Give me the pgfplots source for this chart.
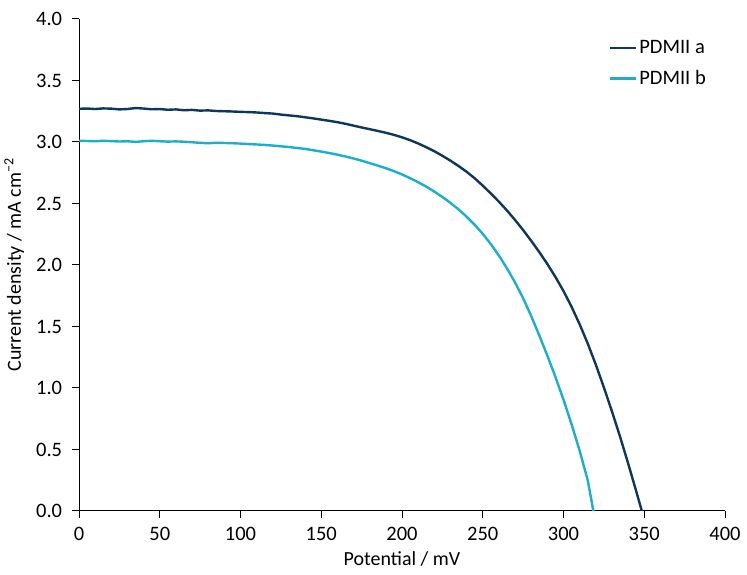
\documentclass[border=0pt]{standalone}
\usepackage{pgfplots}
\pgfplotsset{compat=1.18}
\usepackage{fontspec}
\setmainfont{Carlito}
\definecolor{cdark}{RGB}{14,55,92}
\definecolor{clight}{RGB}{24,176,204}
\begin{document}
\fontsize{20}{24}\selectfont
\begin{tikzpicture}
\useasboundingbox (0pt,0pt) rectangle (747pt,575pt);
\begin{axis}[
  at={(79pt,64pt)}, anchor=south west,
  scale only axis, width=646pt, height=492pt,
  xmin=0, xmax=400, ymin=0, ymax=4,
  axis lines=left,
  axis line style={line width=1pt,-},
  xtick={0,50,...,400}, ytick={0,0.5,...,4},
  tick align=outside, tick style={line width=1pt,black},
  major tick length=7pt,
  yticklabel style={/pgf/number format/fixed,/pgf/number format/fixed zerofill,/pgf/number format/precision=1},
  /pgf/number format/assume math mode=true,
  tick label style={font=\fontsize{20.5}{24}\selectfont},
  xticklabel style={yshift=-2pt},
  yticklabel style={xshift=-3pt},
  xlabel={Potential / mV},
  ylabel={Current density / mA cm\textsuperscript{−2}},
  label style={font=\fontsize{20}{24}\selectfont},
  xlabel style={at={(0.5,0)}, anchor=north, yshift=-34pt},
  ylabel style={at={(0,0.5)}, anchor=south, yshift=48pt},
  legend style={at={(0.82,0.962)}, anchor=north west, draw=none, fill=none,
    font=\fontsize{20.5}{24}\selectfont, row sep=10pt, inner sep=0pt},
  legend cell align=left,
  legend image code/.code={\draw[#1] (0pt,0pt) -- (26pt,0pt);},
  every axis plot/.append style={line width=2.4pt, line join=round},
]
\addplot[cdark, no markers] coordinates {
(0,3.270)(5,3.272)(10,3.268)(15,3.273)(20,3.271)(25,3.265)(30,3.268)(35,3.276)(40,3.272)(45,3.266)
(50,3.268)(55,3.262)(60,3.265)(65,3.258)(70,3.261)(75,3.255)(80,3.257)(85,3.252)(90,3.250)(95,3.248)
(100,3.245)(105,3.243)(110,3.240)(115,3.235)(120,3.231)(125,3.223)(130,3.216)(135,3.210)(140,3.201)(145,3.192)
(150,3.182)(155,3.172)(160,3.161)(165,3.148)(170,3.133)(175,3.118)(180,3.104)(185,3.090)(190,3.075)(195,3.058)
(200,3.038)(205,3.015)(210,2.988)(215,2.958)(220,2.925)(225,2.888)(230,2.848)(235,2.805)(240,2.758)(245,2.705)
(250,2.645)(255,2.582)(260,2.515)(265,2.443)(270,2.366)(275,2.284)(280,2.197)(285,2.105)(290,2.008)(295,1.903)
(300,1.788)(305,1.660)(310,1.518)(315,1.362)(320,1.190)(325,1.005)(330,0.810)(335,0.605)(340,0.388)(345,0.162)
(348.5,0.000)
};
\addlegendentry{PDMII a}
\addplot[clight, no markers] coordinates {
(0,3.010)(5,3.008)(10,3.006)(15,3.010)(20,3.007)(25,3.004)(30,3.006)(35,3.001)(40,3.006)(45,3.010)
(50,3.006)(55,3.003)(60,3.005)(65,3.002)(70,2.998)(75,2.993)(80,2.990)(85,2.994)(90,2.992)(95,2.990)
(100,2.987)(105,2.983)(110,2.980)(115,2.976)(120,2.971)(125,2.965)(130,2.959)(135,2.951)(140,2.944)(145,2.933)
(150,2.922)(155,2.910)(160,2.897)(165,2.882)(170,2.866)(175,2.848)(180,2.828)(185,2.808)(190,2.787)(195,2.763)
(200,2.736)(205,2.706)(210,2.673)(215,2.637)(220,2.597)(225,2.553)(230,2.505)(235,2.452)(240,2.393)(245,2.327)
(250,2.253)(255,2.170)(260,2.077)(265,1.973)(270,1.858)(275,1.730)(280,1.585)(285,1.428)(290,1.263)(295,1.090)
(300,0.905)(305,0.705)(310,0.490)(315,0.250)(318.5,0.000)
};
\addlegendentry{PDMII b}
\end{axis}
\end{tikzpicture}
\end{document}
